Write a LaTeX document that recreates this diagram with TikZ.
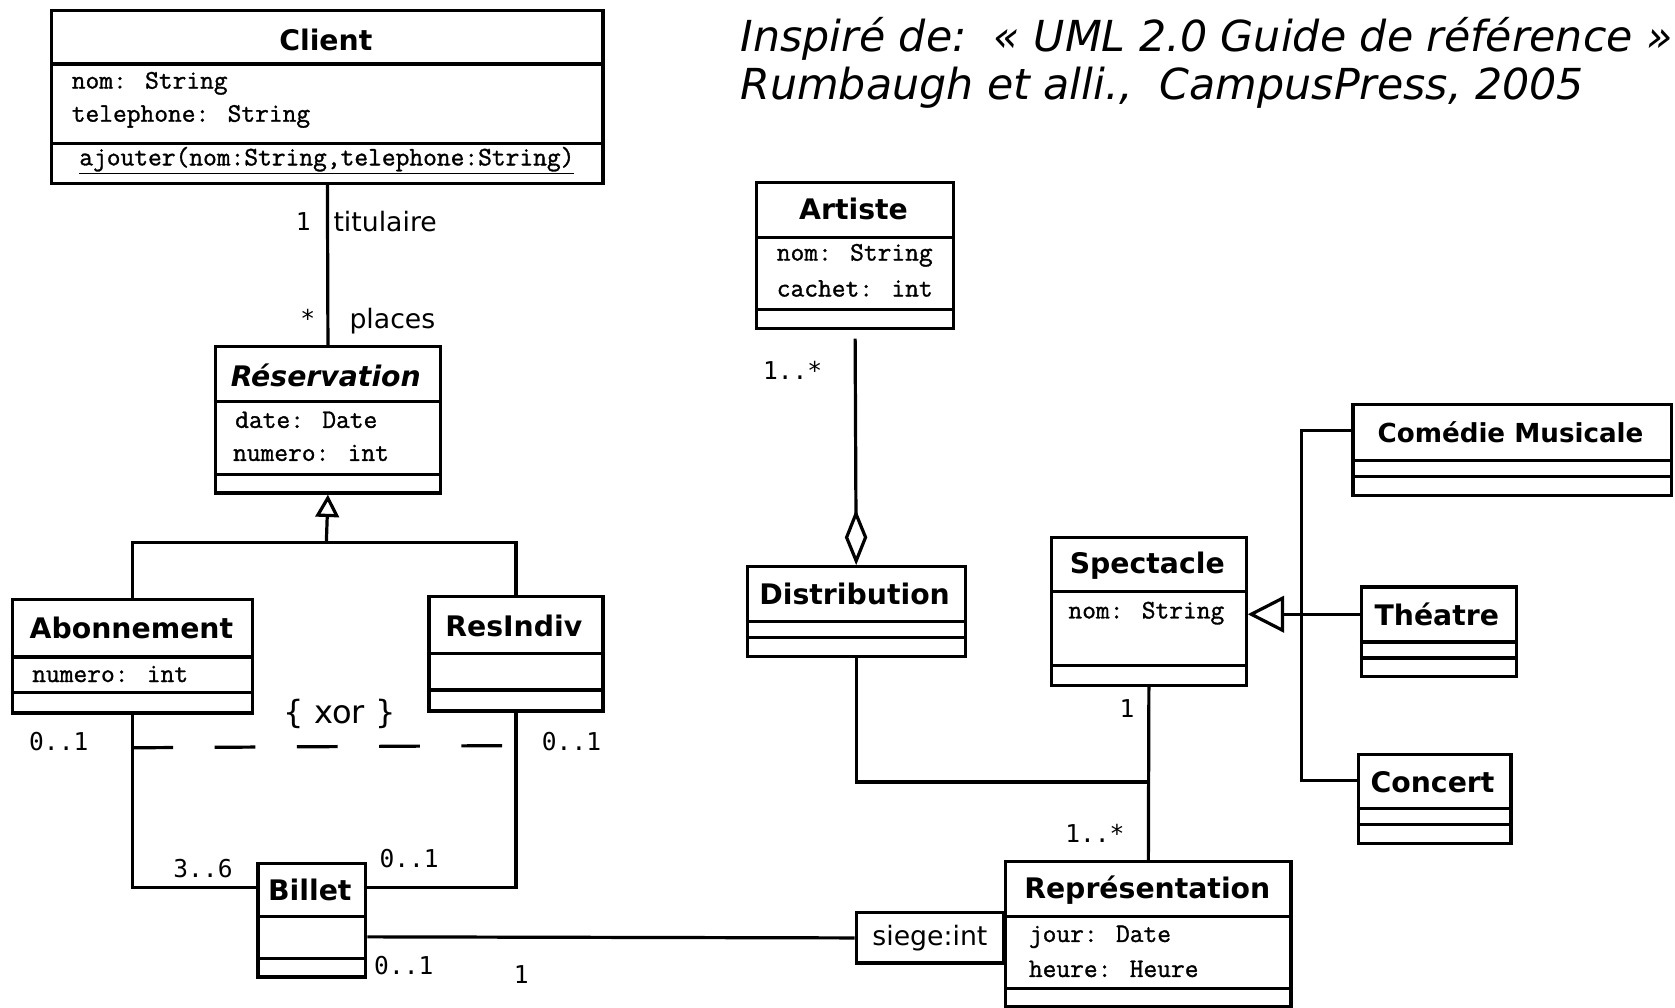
\documentclass[tikz,border=0pt]{standalone}
\usepackage{fontspec}
\setmainfont{DejaVu Sans}
\newfontfamily\multfont{DejaVu Sans Mono}
\newfontfamily\attrfont{Latin Modern Mono}[FakeBold=1.2]
\usetikzlibrary{arrows.meta}
\tikzset{
  ln/.style={line width=3pt},
  cls/.style={draw, line width=3pt, inner sep=0pt, anchor=north west},
  cname/.style={font=\fontsize{26.5}{30}\selectfont\bfseries, inner sep=0pt},
  attr/.style={font=\attrfont\bfseries\fontsize{25}{28}\selectfont, inner sep=0pt, anchor=west},
  mult/.style={font=\multfont\fontsize{23}{26}\selectfont, inner sep=0pt},
  role/.style={font=\fontsize{25}{28}\selectfont, inner sep=0pt},
  ttl/.style={font=\fontsize{40}{44}\selectfont\itshape, inner sep=0pt, anchor=base west},
}
\newcommand\umlbox[7]{%
  \node[cls, minimum width={#4-#2}, minimum height={#5-#3}] (#1) at (#2,#3) {};
  \draw[ln] (#2,#6) -- (#4,#6);
  \draw[ln] (#2,#7) -- (#4,#7);}
\begin{document}
\begin{tikzpicture}[x=1pt,y=-1pt]
\useasboundingbox (0,0) rectangle (1568,943);

% title
\node[ttl] (t1) at (693,48) {Inspiré de:~~« UML 2.0 Guide de référence »};
\node[ttl] (t2) at (693,93) {Rumbaugh et alli.,~~CampusPress, 2005};

% classes
\umlbox{client}{47}{8}{563}{170}{60}{134}
\umlbox{resa}{200}{323}{411}{460}{376}{444}
\umlbox{abon}{10}{560}{235}{666}{615}{648}
\umlbox{resind}{400}{557}{563}{664}{612}{646}
\umlbox{billet}{240}{807}{341}{913}{858}{897}
\umlbox{artiste}{707}{169}{891}{306}{222}{290}
\umlbox{distrib}{698}{529}{902}{613}{582}{597}
\umlbox{spect}{983}{502}{1165}{640}{554}{623}
\umlbox{comedie}{1265}{377}{1563}{462}{431}{446}
\umlbox{theatre}{1273}{548}{1418}{632}{601}{616}
\umlbox{concert}{1270}{705}{1413}{788}{757}{772}
\umlbox{repr}{940}{805}{1207}{941}{858}{925}
\node[cls, minimum width=138, minimum height=47, font=\fontsize{25}{28}\selectfont] (siege) at (800,853) {siege:int};

% class texts
\node[cname] (clientN) at (305,37) {Client};
\node[attr] (clientA1) at (67,78) {nom: String};
\node[attr] (clientA2) at (67,109) {telephone: String};
\node[attr, anchor=center] (clientO) at (306,150) {\underline{ajouter(nom:String,telephone:String)}};

\node[cname, font=\fontsize{26.5}{30}\selectfont\bfseries\itshape] (resaN) at (305,351) {Réservation};
\node[attr] (resaA1) at (220,393) {date: Date};
\node[attr] (resaA2) at (218,424) {numero: int};

\node[cname] (abonN) at (123,588) {Abonnement};
\node[attr] (abonA) at (30,631) {numero: int};
\node[cname] (resindN) at (481,586) {ResIndiv};
\node[cname] (billetN) at (290,833) {Billet};

\node[cname] (artisteN) at (799,196) {Artiste};
\node[attr] (artA1) at (727,239) {nom: String};
\node[attr] (artA2) at (727,270) {cachet: int};
\node[cname] (distribN) at (800,556) {Distribution};
\node[cname] (spectN) at (1074,530) {Spectacle};
\node[attr] (spectA) at (1000,574) {nom: String};
\node[cname, font=\fontsize{24.5}{28}\selectfont\bfseries] (comedieN) at (1414,405) {Comédie Musicale};
\node[cname] (theatreN) at (1345,575) {Théatre};
\node[cname] (concertN) at (1341,732) {Concert};
\node[cname] (reprN) at (1074,833) {Représentation};
\node[attr] (reprA1) at (963,877) {jour: Date};
\node[attr] (reprA2) at (963,907) {heure: Heure};

% Client - Reservation
\draw[ln] (client.south) -- (resa.north);
\node[mult] (m1) at (284,207) {1};
\node[role, anchor=west] (r1) at (312,207) {titulaire};
\node[mult] (m2) at (288,298) {*};
\node[role, anchor=west] (r2) at (327,301) {places};

% generalization Reservation
\coordinate (gR) at (305.5,508);
\draw[ln] (abon.north) |- (gR) -| (resind.north);
\draw[ln, -{Triangle[open, length=21pt, width=22pt]}] (gR) -- (resa.south);

% xor associations
\draw[ln] (abon.south) |- ([yshift=-24pt]billet.north west);
\draw[ln] (resind.south) |- ([yshift=-24pt]billet.north east);
\draw[ln, dash pattern=on 38pt off 39pt] ([yshift=-31pt]abon.south) -- ([yshift=-31pt,xshift=-12pt]resind.south);
\node[role, font=\fontsize{30}{32}\selectfont] (xor) at (318,668) {\{ xor \}};
\node[mult] (m3) at (55,694) {0..1};
\node[mult] (m4) at (535,694) {0..1};
\node[mult] (m5) at (190,813) {3..6};
\node[mult] (m6) at (383,804) {0..1};

% Billet - Representation
\draw[ln] ([yshift=-70pt]billet.north east) -- (siege.west);
\node[mult] (m7) at (378,904) {0..1};
\node[mult] (m8) at (488,912) {1};

% Artiste - Distribution
\coordinate (aend) at ([yshift=-8pt]artiste.south);
\draw[ln, {Diamond[open, length=52pt, width=21pt]}-] (distrib.north) -- (aend);
\node[mult] (m9) at (742,347) {1..*};

% Spectacle - Representation
\draw[ln] (spect.south) -- (repr.north);
\draw[ln] (distrib.south) |- ([yshift=-89pt]spect.south);
\node[mult] (m10) at (1055,663) {1};
\node[mult] (m11) at (1025,780) {1..*};

% generalization Spectacle
\coordinate (thL) at ([yshift=-27pt]theatre.north west);
\coordinate (bus) at (1218,575);
\draw[ln, -{Triangle[open, length=34pt, width=34pt]}] (thL) -- (spect.east |- thL);
\draw[ln] ([yshift=-26pt]comedie.north west) -| (bus) |- ([yshift=-26pt]concert.north west);
\end{tikzpicture}
\end{document}
